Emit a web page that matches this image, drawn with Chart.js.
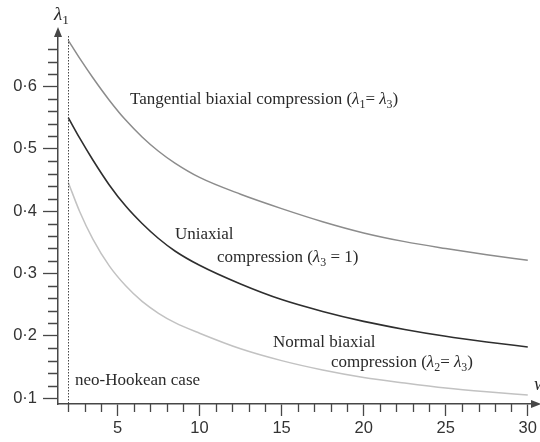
<!DOCTYPE html>
<html>
<head>
<meta charset="utf-8">
<script src="https://cdn.jsdelivr.net/npm/chart.js@4.4.1/dist/chart.umd.min.js"></script>
<style>
  html, body { margin: 0; padding: 0; background: #fff; }
  #wrap { width: 540px; height: 442px; }
</style>
</head>
<body>
<div id="wrap"><canvas id="chart" width="540" height="442"></canvas></div>
<script>
// values
const wValues = [2, 2.7, 3.5, 4.5, 5.5, 6.5, 7.5, 8.5, 10, 12.5, 15, 17.5, 20, 22.5, 25, 27.5, 30];
const tangential = [0.674, 0.645, 0.614, 0.578, 0.546, 0.519, 0.496, 0.477, 0.454, 0.427, 0.404, 0.383, 0.365, 0.351, 0.340, 0.330, 0.321];
const uniaxial = [0.550, 0.517, 0.482, 0.442, 0.408, 0.380, 0.356, 0.336, 0.313, 0.283, 0.258, 0.239, 0.223, 0.210, 0.199, 0.190, 0.182];
const normal = [0.446, 0.399, 0.355, 0.312, 0.280, 0.255, 0.236, 0.221, 0.204, 0.179, 0.160, 0.145, 0.133, 0.124, 0.116, 0.110, 0.105];

const xTicks = [5, 10, 15, 20, 25, 30];
const yTicks = [0.1, 0.2, 0.3, 0.4, 0.5, 0.6];
const xMinor = [];
for (let i = 2; i <= 30; i++) xMinor.push(i);
const yMinor = [];
for (let i = 5; i <= 33; i++) yMinor.push(i / 50);
const neoHookeanW = 2;

const axisColor = '#474747';
const serif = '"Liberation Serif", "DejaVu Serif", serif';
const sans = '"Liberation Sans", Arial, sans-serif';

const toPoints = vals => vals.map((v, i) => ({ x: wValues[i], y: v }));

// draw a label made of plain / italic / subscript pieces
function richText(ctx, x, y, parts, size) {
  let cx = x;
  parts.forEach(p => {
    let font = size + 'px ' + serif;
    let dy = 0;
    if (p.i) font = 'italic ' + font;
    if (p.sub) { font = (size * 0.7) + 'px ' + serif; dy = size * 0.3; }
    ctx.font = font;
    ctx.fillText(p.t, cx, y + dy);
    cx += ctx.measureText(p.t).width;
  });
}

const overlay = {
  id: 'overlay',
  afterDraw(chart) {
    const { ctx, chartArea: a, scales: { x, y } } = chart;
    ctx.save();
    ctx.strokeStyle = axisColor;
    ctx.fillStyle = axisColor;
    ctx.lineWidth = 1.3;

    // minor ticks
    ctx.beginPath();
    xMinor.forEach(v => {
      if (xTicks.includes(v)) return;
      const px = Math.round(x.getPixelForValue(v)) + 0.5;
      ctx.moveTo(px, a.bottom);
      ctx.lineTo(px, a.bottom + 8);
    });
    yMinor.forEach(v => {
      if (yTicks.some(t => Math.abs(t - v) < 1e-6)) return;
      const py = Math.round(y.getPixelForValue(v)) + 0.5;
      ctx.moveTo(a.left, py);
      ctx.lineTo(a.left - 10, py);
    });
    ctx.stroke();

    // arrows
    ctx.beginPath();
    ctx.moveTo(a.left, a.top - 9);
    ctx.lineTo(a.left - 4, a.top + 1);
    ctx.lineTo(a.left + 4, a.top + 1);
    ctx.closePath();
    ctx.fill();
    ctx.beginPath();
    ctx.moveTo(a.right + 6, a.bottom);
    ctx.lineTo(a.right - 4, a.bottom - 4);
    ctx.lineTo(a.right - 4, a.bottom + 4);
    ctx.closePath();
    ctx.fill();

    // neo-Hookean limit
    const xn = Math.round(x.getPixelForValue(neoHookeanW)) + 0.5;
    ctx.lineWidth = 1;
    ctx.setLineDash([1.5, 1.5]);
    ctx.beginPath();
    ctx.moveTo(xn, a.top);
    ctx.lineTo(xn, a.bottom);
    ctx.stroke();
    ctx.setLineDash([]);

    // text
    ctx.fillStyle = '#2a2a2a';
    ctx.textBaseline = 'middle';
    ctx.textAlign = 'left';
    const fs = 17;
    richText(ctx, 130, 100, [
      { t: 'Tangential biaxial compression (' }, { t: 'λ', i: 1 }, { t: '1', sub: 1 },
      { t: '= ' }, { t: 'λ', i: 1 }, { t: '3', sub: 1 }, { t: ')' }], fs);
    richText(ctx, 175, 235, [{ t: 'Uniaxial' }], fs);
    richText(ctx, 217, 258, [
      { t: 'compression (' }, { t: 'λ', i: 1 }, { t: '3', sub: 1 }, { t: ' = 1)' }], fs);
    richText(ctx, 273, 343, [{ t: 'Normal biaxial' }], fs);
    richText(ctx, 331, 363, [
      { t: 'compression (' }, { t: 'λ', i: 1 }, { t: '2', sub: 1 },
      { t: '= ' }, { t: 'λ', i: 1 }, { t: '3', sub: 1 }, { t: ')' }], fs);
    richText(ctx, 75, 381, [{ t: 'neo-Hookean case' }], fs);
    richText(ctx, 54, 15, [{ t: 'λ', i: 1 }, { t: '1', sub: 1 }], 19);
    richText(ctx, 534, 385, [{ t: 'w', i: 1 }], 19);
    ctx.restore();
  }
};

new Chart(document.getElementById('chart'), {
  type: 'line',
  data: {
    datasets: [
      { label: 'Tangential biaxial compression', data: toPoints(tangential), borderColor: '#8c8c8c', borderWidth: 1.5 },
      { label: 'Uniaxial compression', data: toPoints(uniaxial), borderColor: '#2e2e2e', borderWidth: 1.6 },
      { label: 'Normal biaxial compression', data: toPoints(normal), borderColor: '#c2c2c2', borderWidth: 1.5 },
    ],
  },
  options: {
    responsive: false,
    animation: false,
    devicePixelRatio: 1,
    layout: { padding: { top: 36, right: 3, left: 0, bottom: 0 } },
    elements: {
      point: { radius: 0 },
      line: { cubicInterpolationMode: 'monotone', fill: false },
    },
    plugins: { legend: { display: false }, tooltip: { enabled: false } },
    scales: {
      x: {
        type: 'linear',
        min: 1.375,
        max: 30.44,
        afterBuildTicks: s => { s.ticks = xTicks.map(v => ({ value: v })); },
        afterFit: s => { s.height = 38; },
        ticks: { color: '#333', font: { family: sans, size: 16.5 }, padding: 3, maxRotation: 0, autoSkip: false },
        grid: { drawOnChartArea: false, tickLength: 12, tickColor: axisColor, tickWidth: 1.3 },
        border: { display: true, color: axisColor, width: 1.5 },
      },
      y: {
        type: 'linear',
        min: 0.0904,
        max: 0.681,
        afterBuildTicks: s => { s.ticks = yTicks.map(v => ({ value: v })); },
        afterFit: s => { s.width = 58; },
        ticks: {
          color: '#333', font: { family: sans, size: 16.5 }, padding: 6, autoSkip: false,
          callback: v => v.toFixed(1).replace('.', '·'),
        },
        grid: { drawOnChartArea: false, tickLength: 15, tickColor: axisColor, tickWidth: 1.3 },
        border: { display: true, color: axisColor, width: 1.5 },
      },
    },
  },
  plugins: [overlay],
});
</script>
</body>
</html>
